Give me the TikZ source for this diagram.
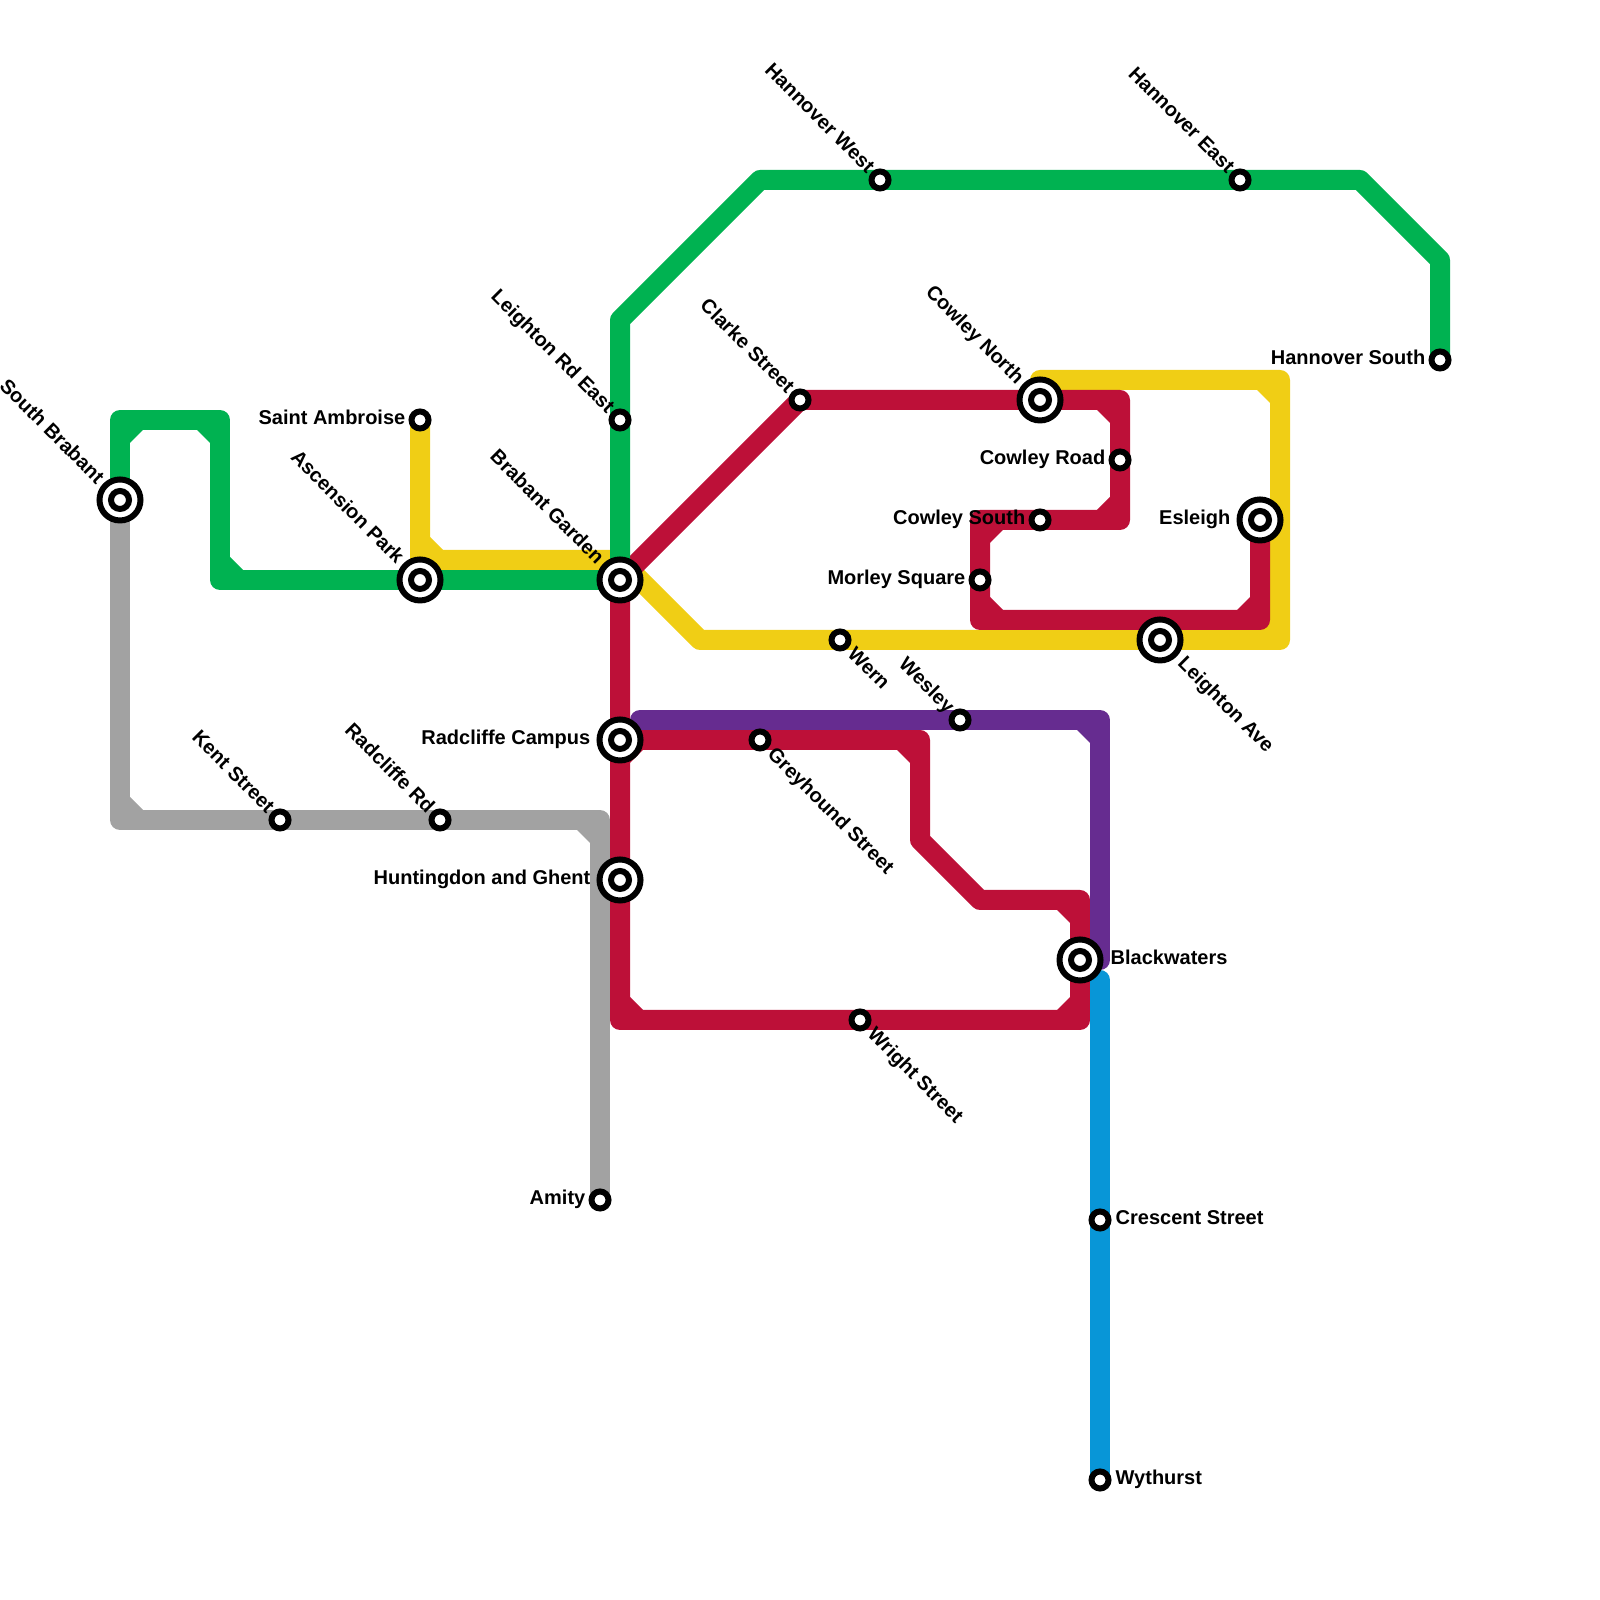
\documentclass[tikz,border=0pt]{standalone}
\usepackage{fontspec}
\setmainfont{Liberation Sans}
\usepackage{tikz}
\usetikzlibrary{positioning,backgrounds}

\definecolor{linegreen}{HTML}{00B251}
\definecolor{lineyellow}{HTML}{F0CE15}
\definecolor{linered}{HTML}{BD1038}
\definecolor{linepurple}{HTML}{662C90}
\definecolor{lineblue}{HTML}{0896D7}
\definecolor{linegray}{HTML}{A2A2A2}

% inner cut of a right-angled bend: colour, bend, direction into the bend
\newcommand{\chamfer}[4]{\fill[#1,shift={(#2)}] ({.09*#3},{.09*#4}) -- ({.24*#3},{.09*#4}) -- ({.09*#3},{.24*#4}) -- cycle;}

\begin{document}
\begin{tikzpicture}[
    metroline/.style={line width=.2cm, line join=round, line cap=round},
    greenline/.style={metroline, draw=linegreen},
    yellowline/.style={metroline, draw=lineyellow},
    redline/.style={metroline, draw=linered},
    purpleline/.style={metroline, draw=linepurple},
    blueline/.style={metroline, draw=lineblue},
    grayline/.style={metroline, draw=linegray},
    stop/.style={draw=black, circle, fill=white, line width=.06cm, inner sep=0pt, minimum size=.17cm, outer sep=0pt},
    hub/.style={stop, minimum size=.41cm, path picture={\draw[line width=.06cm] (path picture bounding box.center) circle (.09);}},
    stoplabel/.style={inner sep=0pt, text height=.145cm, text depth=0pt, font=\fontsize{5.69}{6.5}\selectfont\bfseries, text=black},
    toleft/.style={stoplabel, anchor=east, yshift=.025cm},
    toright/.style={stoplabel, anchor=west, yshift=.025cm},
    upleft/.style={stoplabel, anchor=east, rotate=-45, shift={(-.13,.018)}},
    upleftfar/.style={stoplabel, anchor=east, rotate=-45, shift={(-.27,.01)}},
    downright/.style={stoplabel, anchor=west, rotate=-45, shift={(.15,.01)}},
    downrightfar/.style={stoplabel, anchor=west, rotate=-45, shift={(.287,.018)}}
]
    \useasboundingbox (0,0) rectangle (16,16);

    \node[hub] (southbrabant) at (1.2,11.0) {};
    \node[hub] (ascension) at (4.2,10.2) {};
    \node[hub] (brabant) at (6.2,10.2) {};
    \node[hub] (radcliffe) at (6.2,8.6) {};
    \node[hub] (huntingdon) at (6.2,7.2) {};
    \node[hub] (cowleynorth) at (10.4,12.0) {};
    \node[hub] (esleigh) at (12.6,10.8) {};
    \node[hub] (leightonave) at (11.6,9.6) {};
    \node[hub] (blackwaters) at (10.8,6.4) {};
    \node[stop] (saintambroise) at (4.2,11.8) {};
    \node[stop] (leightonrd) at (6.2,11.8) {};
    \node[stop] (hannoverwest) at (8.8,14.2) {};
    \node[stop] (hannovereast) at (12.4,14.2) {};
    \node[stop] (hannoversouth) at (14.4,12.4) {};
    \node[stop] (clarke) at (8.0,12.0) {};
    \node[stop] (cowleyroad) at (11.2,11.4) {};
    \node[stop] (cowleysouth) at (10.4,10.8) {};
    \node[stop] (morley) at (9.8,10.2) {};
    \node[stop] (wern) at (8.4,9.6) {};
    \node[stop] (wesley) at (9.6,8.8) {};
    \node[stop] (greyhound) at (7.6,8.6) {};
    \node[stop] (wright) at (8.6,5.8) {};
    \node[stop] (kent) at (2.8,7.8) {};
    \node[stop] (radcliffrd) at (4.4,7.8) {};
    \node[stop] (amity) at (6.0,4.0) {};
    \node[stop] (crescent) at (11.0,3.8) {};
    \node[stop] (wythurst) at (11.0,1.2) {};

    \coordinate (greentopleft) at (1.2,11.8);
    \coordinate (greentopright) at (2.2,11.8);
    \coordinate (greenlow) at (2.2,10.2);
    \coordinate (greenrise) at (6.2,12.8);
    \coordinate (greentop) at (7.6,14.2);
    \coordinate (greenfall) at (13.6,14.2);
    \coordinate (greenside) at (14.4,13.4);
    \coordinate (yellowturn) at (4.2,10.4);
    \coordinate (yellowmid) at (6.2,10.4);
    \coordinate (yellowlow) at (7.0,9.6);
    \coordinate (yellowcorner) at (12.8,9.6);
    \coordinate (yellowtop) at (12.8,12.2);
    \coordinate (yellowend) at (10.4,12.2);
    \coordinate (redtop) at (11.2,12.0);
    \coordinate (redstep) at (11.2,10.8);
    \coordinate (redinner) at (9.8,10.8);
    \coordinate (redlow) at (9.8,9.8);
    \coordinate (redright) at (12.6,9.8);
    \coordinate (redbase) at (6.2,5.8);
    \coordinate (redbaseend) at (10.8,5.8);
    \coordinate (redshelf) at (10.8,7.0);
    \coordinate (redshelfend) at (9.8,7.0);
    \coordinate (redslant) at (9.2,7.6);
    \coordinate (redupper) at (9.2,8.6);
    \coordinate (purplestart) at (6.4,8.8);
    \coordinate (purplecorner) at (11.0,8.8);
    \coordinate (purpleend) at (11.0,6.4);
    \coordinate (bluestart) at (11.0,6.2);
    \coordinate (graycorner) at (1.2,7.8);
    \coordinate (grayturn) at (6.0,7.8);

    \begin{scope}[on background layer]
        \draw[yellowline] (saintambroise.center) -- (yellowturn) -- (yellowmid) -- (yellowlow) -- (yellowcorner) -- (yellowtop) -- (yellowend);
        \chamfer{lineyellow}{yellowturn}{1}{1}
        \chamfer{lineyellow}{yellowcorner}{-1}{1}
        \chamfer{lineyellow}{yellowtop}{-1}{-1}

        \draw[grayline] (southbrabant.center) -- (graycorner) -- (grayturn) -- (amity.center);
        \chamfer{linegray}{graycorner}{1}{1}
        \chamfer{linegray}{grayturn}{-1}{-1}

        \draw[redline] (brabant.center) -- (clarke.center) -- (redtop) -- (redstep) -- (redinner) -- (redlow) -- (redright) -- (esleigh.center);
        \chamfer{linered}{redtop}{-1}{-1}
        \chamfer{linered}{redstep}{-1}{1}
        \chamfer{linered}{redinner}{1}{-1}
        \chamfer{linered}{redlow}{1}{1}
        \chamfer{linered}{redright}{-1}{1}
        \draw[redline] (brabant.center) -- (redbase) -- (redbaseend) -- (redshelf) -- (redshelfend) -- (redslant) -- (redupper) -- (radcliffe.center);
        \chamfer{linered}{redbase}{1}{1}
        \chamfer{linered}{redbaseend}{-1}{1}
        \chamfer{linered}{redshelf}{-1}{-1}
        \chamfer{linered}{redupper}{-1}{-1}
        \chamfer{linered}{radcliffe.center}{1}{-1}

        \draw[greenline] (southbrabant.center) -- (greentopleft) -- (greentopright) -- (greenlow) -- (brabant.center);
        \draw[greenline] (brabant.center) -- (greenrise) -- (greentop) -- (greenfall) -- (greenside) -- (hannoversouth.center);
        \chamfer{linegreen}{greentopleft}{1}{-1}
        \chamfer{linegreen}{greentopright}{-1}{-1}
        \chamfer{linegreen}{greenlow}{1}{1}

        \draw[purpleline] (purplestart) -- (purplecorner) -- (purpleend);
        \chamfer{linepurple}{purplecorner}{-1}{-1}

        \draw[blueline] (bluestart) -- (wythurst.center);
    \end{scope}

    \node[upleftfar] (southbrabantname) at (southbrabant) {South Brabant};
    \node[upleftfar] (ascensionname) at (ascension) {Ascension Park};
    \node[upleftfar] (brabantname) at (brabant) {Brabant Garden};
    \node[upleftfar] (cowleynorthname) at (cowleynorth) {Cowley North};
    \node[upleft] (leightonrdname) at (leightonrd) {Leighton Rd East};
    \node[upleft] (hannoverwestname) at (hannoverwest) {Hannover West};
    \node[upleft] (hannovereastname) at (hannovereast) {Hannover East};
    \node[upleft] (clarkename) at (clarke) {Clarke Street};
    \node[upleft] (wesleyname) at (wesley) {Wesley};
    \node[upleft] (kentname) at (kent) {Kent Street};
    \node[upleft] (radcliffrdname) at (radcliffrd) {Radcliffe Rd};
    \node[downright] (wernname) at (wern) {Wern};
    \node[downright] (greyhoundname) at (greyhound) {Greyhound Street};
    \node[downright] (wrightname) at (wright) {Wright Street};
    \node[downrightfar] (leightonavename) at (leightonave) {Leighton Ave};
    \node[toleft, left=.055 of saintambroise] (saintambroisename) {Saint Ambroise};
    \node[toleft, left=.055 of hannoversouth] (hannoversouthname) {Hannover South};
    \node[toleft, left=.055 of cowleyroad] (cowleyroadname) {Cowley Road};
    \node[toleft, left=.055 of cowleysouth] (cowleysouthname) {Cowley South};
    \node[toleft, left=.055 of morley] (morleyname) {Morley Square};
    \node[toleft, left=.055 of amity] (amityname) {Amity};
    \node[toleft, left=.085 of esleigh] (esleighname) {Esleigh};
    \node[toleft, left=.085 of radcliffe] (radcliffename) {Radcliffe Campus};
    \node[toleft, left=.085 of huntingdon] (huntingdonname) {Huntingdon and Ghent};
    \node[toright, right=.095 of blackwaters] (blackwatersname) {Blackwaters};
    \node[toright, right=.065 of crescent] (crescentname) {Crescent Street};
    \node[toright, right=.065 of wythurst] (wythurstname) {Wythurst};
\end{tikzpicture}
\end{document}
